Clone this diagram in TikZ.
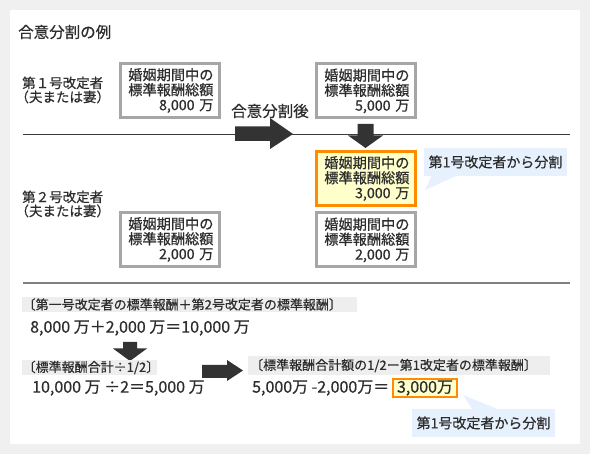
\documentclass[tikz,border=0pt]{standalone}
\usepackage{fontspec}
\setmainfont{Noto Sans CJK JP}[FakeBold=0.6]
\definecolor{outerbg}{RGB}{240,240,240}
\definecolor{txt}{RGB}{45,45,45}
\definecolor{boxgray}{RGB}{166,166,166}
\definecolor{arrowc}{RGB}{51,51,51}
\definecolor{linedark}{RGB}{60,60,60}
\definecolor{linegray}{RGB}{128,128,128}
\definecolor{orangec}{RGB}{255,140,0}
\definecolor{yellowc}{RGB}{255,255,204}
\definecolor{bluec}{RGB}{230,241,253}
\definecolor{labelbg}{RGB}{238,238,238}
\begin{document}
\begin{tikzpicture}[x=1pt,y=-1pt,
  every node/.style={text=txt, inner sep=0pt},
  amtbox/.style={draw=boxgray, line width=3pt, fill=white, minimum width=99pt, minimum height=54pt,
    text width=88pt, align=right, font=\fontsize{14.2}{15}\selectfont},
  hibox/.style={amtbox, draw=orangec, fill=yellowc},
  person/.style={anchor=west, align=left, font=\fontsize{13.5}{14}\selectfont},
  blockarrow/.style={fill=arrowc},
  calloutbg/.style={fill=bluec},
  calltext/.style={font=\fontsize{14}{15}\selectfont},
  labeltext/.style={anchor=west, font=\fontsize{13}{13}\selectfont},
  bigtext/.style={anchor=west, font=\fontsize{16}{17}\selectfont}
]
\useasboundingbox (0,0) rectangle (590,454);
\fill[outerbg] (0,0) rectangle (590,454);
\fill[white] (10,10) rectangle (580,444);

\node[anchor=west, font=\fontsize{15.5}{16}\selectfont] (title) at (18,32) {合意分割の例};

% persons
\node[person] (p1) at (22,90) {第１号改定者\\\hspace*{-0.5em}（夫または妻）};
\node[person] (p2) at (22,204) {第２号改定者\\\hspace*{-0.5em}（夫または妻）};

% lines
\coordinate (l1a) at (23,134.5); \coordinate (l1b) at (570,134.5);
\draw[linedark, line width=1pt] (l1a) -- (l1b);
\coordinate (l2a) at (23,283); \coordinate (l2b) at (570,283);
\draw[linegray, line width=2.2pt] (l2a) -- (l2b);

% boxes
\node[amtbox] (b1) at (169.5,90.5) {婚姻期間中の\\標準報酬総額\\8,000 万};
\node[amtbox] (b2) at (365.5,91) {婚姻期間中の\\標準報酬総額\\5,000 万};
\node[hibox] (b3) at (365.5,178.5) {婚姻期間中の\\標準報酬総額\\3,000 万};
\node[amtbox] (b4) at (169.5,239.5) {婚姻期間中の\\標準報酬総額\\2,000 万};
\node[amtbox] (b5) at (365.5,240) {婚姻期間中の\\標準報酬総額\\2,000 万};

% arrows upper
\fill[blockarrow] (235,126.5) -- (270,126.5) -- (270,118) -- (293,134) -- (270,149) -- (270,141) -- (235,141) -- cycle;
\node[anchor=west, font=\fontsize{15.5}{16}\selectfont] (after) at (231,111) {合意分割後};
\fill[blockarrow] (357.5,124) -- (373.5,124) -- (373.5,135.5) -- (383,135.5) -- (365.5,148) -- (348,135.5) -- (357.5,135.5) -- cycle;

% callout 1
\fill[calloutbg] (424,148) rectangle (567,176);
\fill[calloutbg] (432,175) -- (458,175) -- (425,190) -- cycle;
\node[calltext] (c1) at (495.5,162) {第1号改定者から分割};

% lower formulas
\fill[labelbg] (22,297) rectangle (357,312);
\node[labeltext] (f1) at (22.5,304.5) {〔第一号改定者の標準報酬＋第2号改定者の標準報酬〕};
\node[bigtext] (e1) at (30,328) {8,000 万＋2,000 万＝10,000 万};

\fill[blockarrow] (123,342) -- (137,342) -- (137,348.5) -- (147,348.5) -- (130,361) -- (113,348.5) -- (123,348.5) -- cycle;

\fill[labelbg] (22,360) rectangle (157,375);
\node[labeltext] (f2) at (22.5,367.5) {〔標準報酬合計÷1/2〕};
\node[bigtext] (e2) at (32,388) {10,000 万 ÷2＝5,000 万};

\fill[blockarrow] (202,365) -- (227,365) -- (227,360) -- (243,370.5) -- (227,381) -- (227,378) -- (202,378) -- cycle;

\fill[labelbg] (248,356) rectangle (550,375);
\node[labeltext] (f3) at (250,365.5) {〔標準報酬合計額の1/2ー第1改定者の標準報酬〕};
\node[bigtext] (e3) at (252,388) {5,000万 -2,000万＝};
\node[draw=orangec, line width=2pt, fill=yellowc, minimum width=64pt, minimum height=18pt, font=\fontsize{16}{17}\selectfont] (r3) at (425,388) {3,000万};

% callout 2
\fill[calloutbg] (412,409) rectangle (555,437);
\fill[calloutbg] (473,410) -- (500,410) -- (463,395) -- cycle;
\node[calltext] (c2) at (483.5,423) {第1号改定者から分割};
\end{tikzpicture}
\end{document}
